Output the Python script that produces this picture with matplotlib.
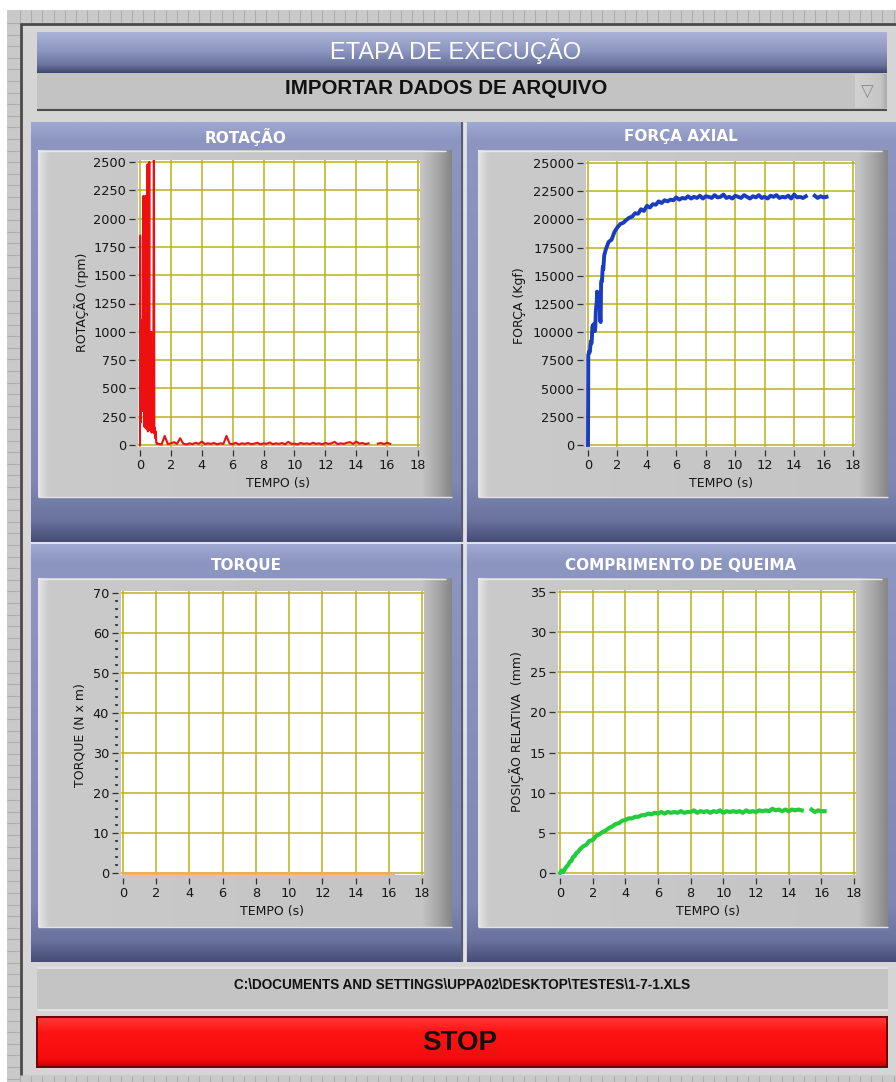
from __future__ import annotations

import matplotlib
import numpy as np

matplotlib.use("Agg")
import matplotlib.pyplot as plt
from matplotlib.colors import LinearSegmentedColormap
from matplotlib.patches import Rectangle
from matplotlib.ticker import MultipleLocator

W, H = 896, 1082
NAN = float("nan")

# ---------------------------------------------------------------- data
# sample times after the start-up transient (acquisition gap near 15 s)
SLOW_T = [
    1.2, 1.4, 1.6, 1.8, 2.0, 2.2, 2.4, 2.6, 2.8, 3.0,
    3.2, 3.4, 3.6, 3.8, 4.0, 4.2, 4.4, 4.6, 4.8, 5.0,
    5.2, 5.4, 5.6, 5.8, 6.0, 6.2, 6.4, 6.6, 6.8, 7.0,
    7.2, 7.4, 7.6, 7.8, 8.0, 8.2, 8.4, 8.6, 8.8, 9.0,
    9.2, 9.4, 9.6, 9.8, 10.0, 10.2, 10.4, 10.6, 10.8, 11.0,
    11.2, 11.4, 11.6, 11.8, 12.0, 12.2, 12.4, 12.6, 12.8, 13.0,
    13.2, 13.4, 13.6, 13.8, 14.0, 14.2, 14.4, 14.6, 14.8, 15.0,
    15.2, 15.4, 15.6, 15.8, 16.0, 16.2,
]

# ROTAÇÃO (rpm)
ROT_T_EARLY = [
    0.00, 0.01, 0.03, 0.05, 0.08, 0.10, 0.13, 0.16, 0.19, 0.22,
    0.24, 0.27, 0.29, 0.32, 0.35, 0.37, 0.40, 0.43, 0.46, 0.49,
    0.51, 0.54, 0.57, 0.60, 0.62, 0.65, 0.68, 0.72, 0.75, 0.78,
    0.81, 0.85, 0.90, 0.93, 0.96, 0.99, 1.02, 1.05, 1.08, 1.12,
]
ROT_EARLY = [
    0, 1850, 600, 200, 1100, 820, 1050, 300, 900, 2200,
    800, 1000, 160, 850, 2200, 150, 870, 140, 900, 2480,
    120, 500, 130, 2500, 150, 540, 130, 1000, 110, 500,
    120, 150, 2600, 100, 150, 60, 120, 30, 10, 15,
]
ROT_SLOW = [
    10, 5, 80, 8, 15, 25, 10, 60, 12, 5,
    15, 8, 20, 10, 30, 8, 15, 10, 18, 6,
    15, 10, 80, 12, 8, 20, 5, 15, 10, 18,
    8, 12, 20, 6, 15, 10, 22, 8, 15, 10,
    18, 6, 28, 10, 12, 5, 18, 10, 15, 8,
    20, 10, 15, 6, 18, 10, 15, 28, 8, 15,
    10, 20, 25, 10, 30, 12, 18, 8, 15, NAN,
    NAN, 12, 18, 8, 20, 10,
]

# FORÇA (Kgf)
FORCE_T_EARLY = [
    0.00, 0.02, 0.05, 0.08, 0.11, 0.14, 0.17, 0.20, 0.23, 0.26,
    0.29, 0.32, 0.35, 0.38, 0.41, 0.44, 0.47, 0.50, 0.53, 0.56,
    0.59, 0.62, 0.65, 0.68, 0.71, 0.74, 0.77, 0.80, 0.83, 0.86,
    0.89, 0.92, 0.95, 0.98, 1.01, 1.04, 1.07, 1.10,
]
FORCE_EARLY = [
    0, 8000, 8100, 8300, 8200, 8500, 8900, 9200, 9000, 9300,
    10400, 10600, 10500, 10700, 10300, 10600, 10100, 10500, 11800, 12300,
    12600, 13600, 12500, 12700, 12300, 12600, 12200, 12500, 11000, 10900,
    14400, 14600, 14500, 15300, 15800, 15600, 16200, 16800,
]
FORCE_SLOW = [
    17300, 18000, 18200, 18900, 19300, 19600, 19700, 19950, 20150, 20250,
    20550, 20500, 20900, 20750, 21200, 21050, 21350, 21300, 21600, 21450,
    21700, 21600, 21750, 21700, 21950, 21750, 21900, 21850, 22050, 21850,
    22000, 21900, 22100, 21850, 22050, 22000, 21900, 22150, 21950, 22000,
    22200, 21900, 22000, 21850, 22100, 22000, 21900, 22150, 22000, 21850,
    22050, 21950, 22150, 21900, 22000, 21850, 22100, 22000, 22150, 21900,
    22000, 21950, 22100, 21850, 22200, 21950, 22000, 21900, 22050, NAN,
    NAN, 22100, 21900, 22050, 21950, 22000,
]

# TORQUE (N x m)
TORQUE_T = [0.0, 16.25]
TORQUE = [0.0, 0.0]

# POSIÇÃO RELATIVA (mm)
POS_T_EARLY = [0.0, 0.1, 0.2, 0.3, 0.4, 0.5, 0.6, 0.7, 0.8, 0.9, 1.0, 1.1]
POS_EARLY = [0.0, 0.3, 0.1, 0.5, 0.8, 1.0, 1.4, 1.5, 2.0, 2.1, 2.5, 2.6]
POS_SLOW = [
    2.9, 3.3, 3.5, 4.0, 4.1, 4.6, 4.8, 5.1, 5.3, 5.6,
    5.8, 6.1, 6.2, 6.5, 6.6, 6.8, 6.8, 7.0, 7.0, 7.2,
    7.2, 7.4, 7.3, 7.5, 7.4, 7.6, 7.4, 7.6, 7.5, 7.6,
    7.5, 7.7, 7.5, 7.6, 7.6, 7.8, 7.5, 7.7, 7.6, 7.7,
    7.5, 7.7, 7.6, 7.8, 7.5, 7.7, 7.6, 7.7, 7.6, 7.7,
    7.5, 7.8, 7.6, 7.7, 7.6, 7.8, 7.7, 7.8, 7.7, 8.0,
    7.8, 7.9, 7.7, 7.9, 7.7, 7.9, 7.8, 7.9, 7.8, NAN,
    NAN, 7.9, 7.6, 7.8, 7.7, 7.7,
]

STAGE_TITLE = "ETAPA DE EXECUÇÃO"
STAGE_VALUE = "IMPORTAR DADOS DE ARQUIVO"
FILE_PATH = "C:\\DOCUMENTS AND SETTINGS\\UPPA02\\DESKTOP\\TESTES\\1-7-1.XLS"

# ---------------------------------------------------------------- style
GRID = "#bab11a"
PANEL_STOPS = [(0.0, "#a0a9d1"), (0.04, "#8c96c1"), (0.86, "#7e88b2"),
               (0.95, "#6a739e"), (1.0, "#454d76")]
INNER_STOPS = [(0.0, "#e4e4e4"), (0.025, "#cacaca"), (0.93, "#c4c4c4"),
               (0.97, "#a4a4a4"), (1.0, "#878787")]
UI_FONT = ["Liberation Sans", "DejaVu Sans"]

fig = plt.figure(figsize=(W / 100, H / 100), dpi=100, facecolor="white")
bg = fig.add_axes([0, 0, 1, 1])
bg.axis("off")

_z = [1]


def nz():
    _z[0] += 1
    return _z[0]


def box(x0, y0, x1, y1, color, edge="none", lw=0.0):
    bg.add_patch(Rectangle((x0, y0), x1 - x0, y1 - y0, facecolor=color,
                           edgecolor=edge, linewidth=lw, zorder=nz()))


def grad(x0, y0, x1, y1, stops, horizontal=False):
    cmap = LinearSegmentedColormap.from_list("g", stops)
    ramp = np.linspace(0, 1, 256)
    arr = ramp.reshape(1, -1) if horizontal else ramp.reshape(-1, 1)
    bg.imshow(arr, cmap=cmap, vmin=0, vmax=1, extent=(x0, x1, y1, y0),
              origin="upper", aspect="auto", interpolation="bilinear", zorder=nz())


def line(xs, ys, color, lw=1.0):
    bg.plot(xs, ys, color=color, lw=lw, solid_capstyle="butt", zorder=nz())


# rulers around the front panel
box(7, 10, W, 23, "#c9c9c9")
box(7, 10, 20, H, "#c9c9c9")
box(7, 1075, W, H, "#c9c9c9")
for x in np.arange(20, W, 11.2):
    line([x, x], [10, 23], "#adadad", 0.8)
    line([x, x], [1076, H], "#adadad", 0.8)
for y in np.arange(23, H, 11.6):
    line([7, 20], [y, y], "#adadad", 0.8)

# front panel
box(20, 23, W, 1075, "#d5d5d5")
line([20.5, 20.5], [23, 1075], "#4a4a4a", 2.0)
line([20, W], [23.5, 23.5], "#4a4a4a", 2.0)

# stage header + ring control
grad(37, 32, 887, 73, [(0, "#aab2d6"), (0.45, "#8e97c0"), (0.8, "#6a739e"), (1, "#3f466c")])
bg.text(456, 51, STAGE_TITLE, color="white", fontsize=17, family=UI_FONT,
        ha="center", va="center", zorder=nz())
box(37, 73, 887, 110, "#c3c3c3")
line([37, 887], [109.5, 109.5], "#4d4d4d", 1.5)
grad(855, 74, 887, 108, [(0, "#d2d2d2"), (0.8, "#c6c6c6"), (1, "#a9a9a9")], horizontal=True)
bg.text(867, 92, "▽", color="#8c8c8c", fontsize=12, family="DejaVu Sans",
        ha="center", va="center", zorder=nz())
bg.text(446, 88, STAGE_VALUE, color="#111111", fontsize=14.8, weight="bold",
        family=UI_FONT, ha="center", va="center", zorder=nz())

# chart panels: (panel box, inner box, title, title y)
PANELS = [
    ((31, 122, 461, 542), (38, 150, 452, 497), "ROTAÇÃO", 137),
    ((466, 122, W, 542), (478, 150, 888, 497), "FORÇA AXIAL", 137),
    ((31, 544, 461, 962), (38, 578, 452, 927), "TORQUE", 566),
    ((466, 544, W, 962), (478, 578, 888, 927), "COMPRIMENTO DE QUEIMA", 565),
]
for (x0, y0, x1, y1), (ix0, iy0, ix1, iy1), title, ty in PANELS:
    grad(x0, y0, x1, y1, PANEL_STOPS)
    grad(ix0, iy0, ix1, iy1, INNER_STOPS, horizontal=True)
    line([ix0, ix1 - 6], [iy0 + 0.5, iy0 + 0.5], "#e8e8e8", 1.0)
    line([ix0, ix1], [iy1 - 0.5, iy1 - 0.5], "#e2e2e2", 1.0)
    bg.text((x0 + x1) / 2, ty, title, color="white", fontsize=11, weight="bold",
            family="DejaVu Sans", ha="center", va="center", zorder=nz())
line([461.5, 461.5], [122, 962], "#3e4468", 1.2)
line([464.5, 464.5], [122, 962], "#e3e3ea", 2.0)
line([31, W], [543.2, 543.2], "#e3e3ea", 1.4)

# file path indicator
box(37, 967, 888, 1010, "#c4c4c4")
line([37, 888], [967.5, 967.5], "#e6e6e6", 1.2)
line([37, 888], [1009.5, 1009.5], "#e9e9e9", 1.2)
bg.text(462, 985, FILE_PATH, color="#111111", fontsize=9.8, weight="bold",
        family=UI_FONT, ha="center", va="center", zorder=nz())

# STOP button
grad(37, 1017, 887, 1067, [(0, "#ff3a3a"), (0.3, "#ff1414"), (0.85, "#f40c0c"), (1, "#c00000")])
bg.add_patch(Rectangle((37, 1017), 850, 50, facecolor="none", edgecolor="#6e0000",
                       linewidth=1.4, zorder=nz()))
bg.text(460, 1043, "STOP", color="#111111", fontsize=20, weight="bold",
        family=UI_FONT, ha="center", va="center", zorder=nz())

bg.set_xlim(0, W)
bg.set_ylim(H, 0)


# ---------------------------------------------------------------- charts
def chart(px0, py0, px1, py1, ymax, ystep, ylabel, ylab_xy, xlab_xy, minor=None):
    """px0/px1: pixel columns of t=0 / t=18, py0/py1: pixel rows of ymax / 0."""
    pad = 2
    ax = fig.add_axes([(px0 - pad) / W, 1 - (py1 + pad) / H,
                       (px1 - px0 + 2 * pad) / W, (py1 - py0 + 2 * pad) / H])
    ax.set_facecolor("white")
    dx = 18 / (px1 - px0) * pad
    dy = ymax / (py1 - py0) * pad
    ax.set_xlim(-dx, 18 + dx)
    ax.set_ylim(-dy, ymax + dy)
    ax.xaxis.set_major_locator(MultipleLocator(2))
    ax.yaxis.set_major_locator(MultipleLocator(ystep))
    if minor:
        ax.yaxis.set_minor_locator(MultipleLocator(minor))
        ax.tick_params(axis="y", which="minor", direction="out", length=2.2,
                       width=1.2, color="#303030")
    ax.grid(True, which="major", color=GRID, lw=1.1)
    ax.set_axisbelow(True)
    for side in ("top", "right"):
        ax.spines[side].set_visible(False)
    for side in ("left", "bottom"):
        ax.spines[side].set_position(("outward", 2.5))
        ax.spines[side].set_visible(False)
    ax.tick_params(which="major", direction="out", length=4.5, width=0.9,
                   color="#303030", labelsize=9.3, labelcolor="#151515", pad=1.5)
    ax.set_ylabel(ylabel, fontsize=9, color="#151515", va="center")
    ax.yaxis.set_label_coords(*ylab_xy, transform=bg.transData)
    ax.set_xlabel("TEMPO (s)", fontsize=9, color="#151515", va="center")
    ax.xaxis.set_label_coords(*xlab_xy, transform=bg.transData)
    return ax


ax_rot = chart(140, 162, 418, 445, 2500, 250, "ROTAÇÃO (rpm)", (82, 302), (278, 483))
ax_rot.plot(ROT_T_EARLY + SLOW_T, ROT_EARLY + ROT_SLOW, color="#ee1010", lw=1.5)

ax_force = chart(588, 163, 853, 445, 25000, 2500, "FORÇA (Kgf)", (520, 306), (721, 483))
ax_force.plot(FORCE_T_EARLY + SLOW_T, FORCE_EARLY + FORCE_SLOW, color="#1a3cc0", lw=2.8)

ax_torque = chart(123, 593, 422, 873, 70, 10, "TORQUE (N x m)", (80, 735), (272, 912), minor=2)
ax_torque.plot(TORQUE_T, TORQUE, color="#f3aa62", lw=2.0)

ax_pos = chart(560, 592, 854, 873, 35, 5, "POSIÇÃO RELATIVA  (mm)", (517, 732), (708, 912))
ax_pos.plot(POS_T_EARLY + SLOW_T, POS_EARLY + POS_SLOW, color="#22cc3a", lw=3.0)

fig.savefig("out.png", dpi=100)
plt.close(fig)
